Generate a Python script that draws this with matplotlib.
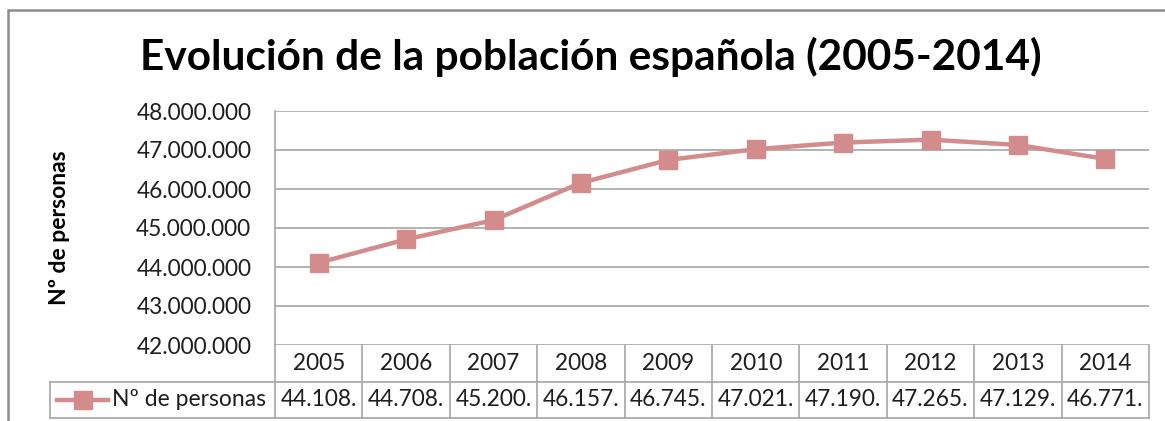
import matplotlib
matplotlib.use("Agg")
import matplotlib.pyplot as plt
from matplotlib.lines import Line2D
from matplotlib.patches import Rectangle
from matplotlib.transforms import blended_transform_factory

plt.rcParams['font.family'] = ['Lato', 'DejaVu Sans']

years = ['2005', '2006', '2007', '2008', '2009', '2010', '2011', '2012', '2013', '2014']
personas = [44108530, 44708964, 45200737, 46157822, 46745807,
            47021031, 47190493, 47265321, 47129783, 46771341]
yticks = [42000000, 43000000, 44000000, 45000000, 46000000, 47000000, 48000000]
title = 'Evolución de la población española (2005-2014)'
serie = 'Nº de personas'

line_col = '#D38B8B'
grid_col = '#A6A6A6'
txt_col = '#1E1E1E'
W, H = 1165, 421

def fy(px):
    return 1 - px / H

def fx(px):
    return px / W

fig = plt.figure(figsize=(W / 100, H / 100), dpi=100)
ax = fig.add_axes([fx(275), fy(345), fx(1149) - fx(275), fy(111) - fy(345)])

# outer chart border
fig.patches.append(Rectangle((fx(8), fy(430)), 1.2, fy(10) - fy(430),
                             transform=fig.transFigure, fill=False,
                             edgecolor='#8C8C8C', linewidth=1.8))

x = list(range(len(years)))
ax.plot(x, personas, color=line_col, linewidth=3.2, marker='s', markersize=13,
        markerfacecolor=line_col, markeredgecolor=line_col, zorder=3)

ax.set_xlim(-0.5, len(years) - 0.5)
ax.set_ylim(yticks[0], yticks[-1])
ax.set_yticks(yticks)
ax.set_yticklabels([f"{v:,}".replace(",", ".") for v in yticks], fontsize=16.3, color=txt_col)
ax.tick_params(axis='y', length=0, pad=17)
ax.set_xticks([])
ax.yaxis.grid(True, color=grid_col, linewidth=1.2)
ax.set_axisbelow(True)
for s in ['top', 'right', 'bottom']:
    ax.spines[s].set_visible(False)
ax.spines['left'].set_color(grid_col)
ax.spines['left'].set_linewidth(1.2)

fig.text(fx(591), fy(57), title, ha='center', va='center', fontsize=30.5, fontweight='bold')
fig.text(fx(60), fy(228), serie, ha='center', va='center', rotation=90,
         fontsize=16.5, fontweight='bold')

# data table below the plot
tr = blended_transform_factory(ax.transData, fig.transFigure)
y0, y1, y2 = fy(345), fy(382), fy(418)
for i in range(len(years) + 1):
    ax.add_line(Line2D([i - 0.5, i - 0.5], [y2, y0], transform=tr, color=grid_col,
                       linewidth=1.2, clip_on=False))
ax.add_line(Line2D([-0.5, len(years) - 0.5], [y1, y1], transform=tr, color=grid_col,
                   linewidth=1.2, clip_on=False))
ax.add_line(Line2D([-0.5, len(years) - 0.5], [y2, y2], transform=tr, color=grid_col,
                   linewidth=1.2, clip_on=False))
for i, (yr, v) in enumerate(zip(years, personas)):
    ax.text(i, (y0 + y1) / 2, yr, transform=tr, ha='center', va='center',
            fontsize=16.3, color=txt_col)
    ax.text(i, (y1 + y2) / 2, f"{v:,}".replace(",", ".")[:7], transform=tr,
            ha='center', va='center', fontsize=16.3, color=txt_col)

# legend cell
for xs, ys in [([fx(50), fx(275)], [y1, y1]), ([fx(50), fx(275)], [y2, y2]),
               ([fx(50), fx(50)], [y1, y2])]:
    fig.add_artist(Line2D(xs, ys, transform=fig.transFigure, color=grid_col, linewidth=1.2))
ym = (y1 + y2) / 2
fig.add_artist(Line2D([fx(57), fx(108)], [ym, ym], transform=fig.transFigure,
                      color=line_col, linewidth=3.2))
fig.add_artist(Line2D([fx(83)], [ym], transform=fig.transFigure, marker='s',
                      markersize=13, color=line_col, linestyle='none'))
fig.text(fx(112), ym, serie, ha='left', va='center', fontsize=16.5, color=txt_col)

fig.savefig('out.png', dpi=100, facecolor='white')
